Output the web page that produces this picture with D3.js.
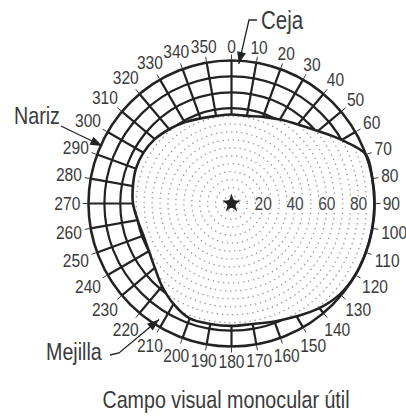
<!DOCTYPE html>
<html>
<head>
<meta charset="utf-8">
<script src="https://cdn.jsdelivr.net/npm/d3@7"></script>
<style>
body { margin: 0; background: #fff; }
text { font-family: "Liberation Sans", Arial, sans-serif; }
</style>
</head>
<body>
<div id="campo"></div>
<script>
// meridianos cada 10 grados (0 arriba, sentido horario)
var meridianos = d3.range(0, 360, 10);
// limite del campo util (grados de excentricidad) en cada meridiano
var limite = [56, 56, 58, 61, 65, 71, 80, 90, 90, 90, 90, 90, 90, 89, 86, 82, 79, 77,
    77, 77, 77, 73, 68, 63, 60, 59, 60, 62, 63, 64, 64, 63, 61, 59, 57, 56];
var circulosGrilla = [60, 70, 80];
var circulosPunteados = d3.range(5, 90, 5);
var etiquetasRadio = [20, 40, 60, 80];
var notas = ["Ceja", "Nariz", "Mejilla"];
var notasAngulo = [3, 294, 212];
var notasRadio = [88, 89, 86];
var titulo = "Campo visual monocular útil";

var ancho = 406, alto = 417;
var cx = 231.5, cy = 203.5, R = 143;
var lineC = "#222222", textC = "#3a3a3a", dotC = "#9a9a9a";
var estrecho = 0.82; // letra condensada

var r = d3.scaleLinear().domain([0, 90]).range([0, R]);

function polar(a, v) {
    var t = a * Math.PI / 180;
    return [cx + r(v) * Math.sin(t), cy - r(v) * Math.cos(t)];
}

// texto condensado horizontalmente
function texto(padre, x, y, txt, size, anchor) {
    return padre.append("text")
        .attr("transform", "translate(" + x + "," + y + ") scale(" + estrecho + ",1)")
        .attr("text-anchor", anchor || "start")
        .attr("font-size", size + "px")
        .attr("fill", textC)
        .text(txt);
}

var svg = d3.select("#campo")
    .append("svg")
    .attr("width", ancho)
    .attr("height", alto);

var puntos = meridianos.map(function (a, i) { return { a: a, v: limite[i] }; });
var lineaLimite = d3.lineRadial()
    .angle(function (d) { return d.a * Math.PI / 180; })
    .radius(function (d) { return r(d.v); })
    .curve(d3.curveCatmullRomClosed.alpha(0.5));
var dLimite = lineaLimite(puntos);

var p = d3.path();
p.moveTo(R, 0);
p.arc(0, 0, R, 0, 2 * Math.PI);
p.closePath();
var dExterior = p.toString();

var defs = svg.append("defs");
defs.append("clipPath").attr("id", "dentro")
    .append("path").attr("d", dLimite);
defs.append("clipPath").attr("id", "banda")
    .append("path").attr("d", dExterior + dLimite).attr("clip-rule", "evenodd");

var g = svg.append("g").attr("transform", "translate(" + cx + "," + cy + ")");

// circulos punteados dentro del campo
g.append("g")
    .attr("clip-path", "url(#dentro)")
    .selectAll("circle")
    .data(circulosPunteados)
    .enter()
    .append("circle")
    .attr("r", function (d) { return r(d); })
    .attr("fill", "none")
    .attr("stroke", dotC)
    .attr("stroke-width", 1.5)
    .attr("stroke-linecap", "round")
    .attr("stroke-dasharray", "0.1 5");

// grilla de la zona bloqueada
var banda = g.append("g").attr("clip-path", "url(#banda)");
banda.selectAll("circle")
    .data(circulosGrilla)
    .enter()
    .append("circle")
    .attr("r", function (d) { return r(d); })
    .attr("fill", "none")
    .attr("stroke", lineC)
    .attr("stroke-width", 2.2);
banda.selectAll("line")
    .data(meridianos)
    .enter()
    .append("line")
    .attr("x1", 0)
    .attr("y1", 0)
    .attr("x2", function (d) { return r(90) * Math.sin(d * Math.PI / 180); })
    .attr("y2", function (d) { return -r(90) * Math.cos(d * Math.PI / 180); })
    .attr("stroke", lineC)
    .attr("stroke-width", 2.2);

g.append("path")
    .attr("d", dLimite)
    .attr("fill", "none")
    .attr("stroke", lineC)
    .attr("stroke-width", 2.6);
g.append("circle")
    .attr("r", r(90))
    .attr("fill", "none")
    .attr("stroke", lineC)
    .attr("stroke-width", 2.6);

// marcas y etiquetas de meridianos
g.selectAll(".tick")
    .data(meridianos)
    .enter()
    .append("line")
    .attr("class", "tick")
    .attr("x1", function (d) { return (R + 1) * Math.sin(d * Math.PI / 180); })
    .attr("y1", function (d) { return -(R + 1) * Math.cos(d * Math.PI / 180); })
    .attr("x2", function (d) { return (R + 6) * Math.sin(d * Math.PI / 180); })
    .attr("y2", function (d) { return -(R + 6) * Math.cos(d * Math.PI / 180); })
    .attr("stroke", textC)
    .attr("stroke-width", 1);

meridianos.forEach(function (d) {
    var t = d * Math.PI / 180;
    var halfW = String(d).length * 4.4, halfH = 6.5;
    var rr = R + 8 + halfW * Math.abs(Math.sin(t)) + halfH * Math.abs(Math.cos(t));
    texto(g, rr * Math.sin(t), -rr * Math.cos(t), d, 19, "middle")
        .attr("dy", "0.35em");
});

// etiquetas de excentricidad
etiquetasRadio.forEach(function (d) {
    texto(g, r(d), 0, d, 19, "middle")
        .attr("dy", "0.35em")
        .attr("fill", "#444")
        .attr("stroke", "#fff")
        .attr("stroke-width", 3)
        .attr("paint-order", "stroke");
});

// punto de fijacion
g.append("path")
    .attr("d", d3.symbol(d3.symbolStar, 110)())
    .attr("fill", lineC);
g.append("circle")
    .attr("r", 4.5)
    .attr("fill", lineC);

// notas con flecha
function flecha(tip, desde) {
    var ang = Math.atan2(tip[1] - desde[1], tip[0] - desde[0]);
    var L = 12, W = 4.5;
    var bx = tip[0] - L * Math.cos(ang), by = tip[1] - L * Math.sin(ang);
    var pts = [tip,
        [bx + W * Math.sin(ang), by - W * Math.cos(ang)],
        [bx - W * Math.sin(ang), by + W * Math.cos(ang)]];
    svg.append("path")
        .attr("d", "M" + pts.join("L") + "Z")
        .attr("fill", lineC);
}

var tips = notas.map(function (n, i) { return polar(notasAngulo[i], notasRadio[i]); });

// Ceja
svg.append("polyline")
    .attr("points", [tips[0], [249, 20], [257, 20]].join(" "))
    .attr("fill", "none").attr("stroke", lineC).attr("stroke-width", 1.3);
flecha(tips[0], [249, 20]);
texto(svg, 261, 29, notas[0], 25);

// Nariz
svg.append("polyline")
    .attr("points", [[61, 126], tips[1]].join(" "))
    .attr("fill", "none").attr("stroke", lineC).attr("stroke-width", 1.3);
flecha(tips[1], [61, 126]);
texto(svg, 14, 124, notas[1], 24);

// Mejilla
svg.append("polyline")
    .attr("points", [[110, 355], [119, 353], tips[2]].join(" "))
    .attr("fill", "none").attr("stroke", lineC).attr("stroke-width", 1.3);
flecha(tips[2], [119, 353]);
texto(svg, 46, 360, notas[2], 24);

texto(svg, 226, 408, titulo, 24, "middle");
</script>
</body>
</html>
